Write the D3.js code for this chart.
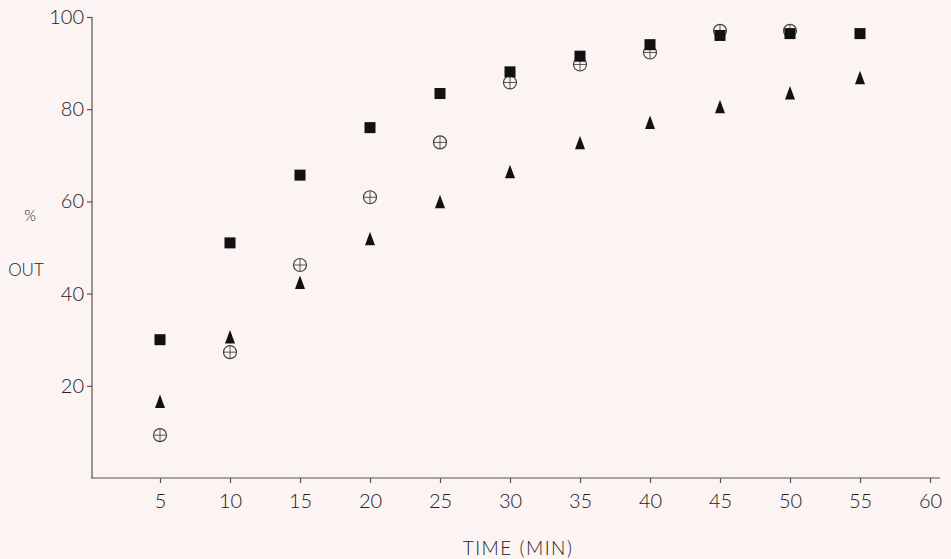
<!DOCTYPE html>
<html><head><meta charset="utf-8">
<script src="https://cdn.jsdelivr.net/npm/d3@7"></script>
<style>
html,body{margin:0;padding:0;background:#fbf4f3;}
svg{display:block;}
text{font-family:"Lato","DejaVu Sans",sans-serif;font-weight:300;fill:#222;}
</style></head>
<body>
<svg id="c" width="951" height="559"></svg>
<script>
const times = [5,10,15,20,25,30,35,40,45,50,55];
const squareSeries = [30,51,65.7,76,83.4,88.1,91.5,94,96,96.4,96.4];
const circleSeries = [9.3,27.3,46.2,60.9,72.8,85.8,89.7,92.3,97,97,null];
const triangleSeries = [16.5,30.5,42.3,51.8,59.8,66.3,72.6,77,80.4,83.4,86.7];
const xTicks = [5,10,15,20,25,30,35,40,45,50,55,60];
const yTicks = [20,40,60,80,100];

const svg = d3.select("#c");
const x = d3.scaleLinear().domain([0,60]).range([90,930]);
const y = d3.scaleLinear().domain([0,100]).range([478,17]);

// axes
const xAxis = svg.append("g").attr("transform","translate(0,478)")
  .call(d3.axisBottom(x).tickValues(xTicks).tickSize(5).tickPadding(11).tickSizeOuter(0));
xAxis.select(".domain").attr("d","M91,0H940");
const yAxis = svg.append("g").attr("transform","translate(92,0)")
  .call(d3.axisLeft(y).tickValues(yTicks).tickSize(5).tickPadding(3).tickSizeOuter(0));
yAxis.select(".domain").attr("d","M0,478V17");
svg.selectAll(".domain").attr("stroke","#555").attr("stroke-width",1.2);
svg.selectAll(".tick line").attr("stroke","#555").attr("stroke-width",1.2);
svg.selectAll(".tick text").attr("font-size",20).attr("fill","#222")
  .style("font-family","Lato, DejaVu Sans, sans-serif").style("font-weight",300);

// labels
svg.append("text").attr("x",518).attr("y",555).attr("text-anchor","middle")
  .attr("font-size",19).attr("letter-spacing",1.5).text("TIME (MIN)");
svg.append("text").attr("x",30).attr("y",221).attr("text-anchor","middle")
  .attr("font-size",15).text("%");
svg.append("text").attr("x",26).attr("y",276).attr("text-anchor","middle")
  .attr("font-size",17).text("OUT");

// circles with crosshair
const cData = times.map((t,i)=>({t,v:circleSeries[i]})).filter(d=>d.v!=null);
const cg = svg.append("g").selectAll("g").data(cData).join("g")
  .attr("transform",d=>`translate(${x(d.t)},${y(d.v)})`);
cg.append("circle").attr("r",6.5).attr("fill","none").attr("stroke","#444").attr("stroke-width",1.2);
cg.append("path").attr("d","M-6.5,0H6.5M0,-6.5V6.5").attr("stroke","#444").attr("stroke-width",0.9);

// squares
svg.append("g").selectAll("rect").data(times.map((t,i)=>({t,v:squareSeries[i]})))
  .join("rect").attr("x",d=>x(d.t)-5.5).attr("y",d=>y(d.v)-5.5)
  .attr("width",11).attr("height",11).attr("fill","#111");

// triangles
svg.append("g").selectAll("path").data(times.map((t,i)=>({t,v:triangleSeries[i]})))
  .join("path").attr("transform",d=>`translate(${x(d.t)},${y(d.v)})`)
  .attr("d","M0,-7.5L5,6L-5,6Z").attr("fill","#111");
</script>
</body></html>
